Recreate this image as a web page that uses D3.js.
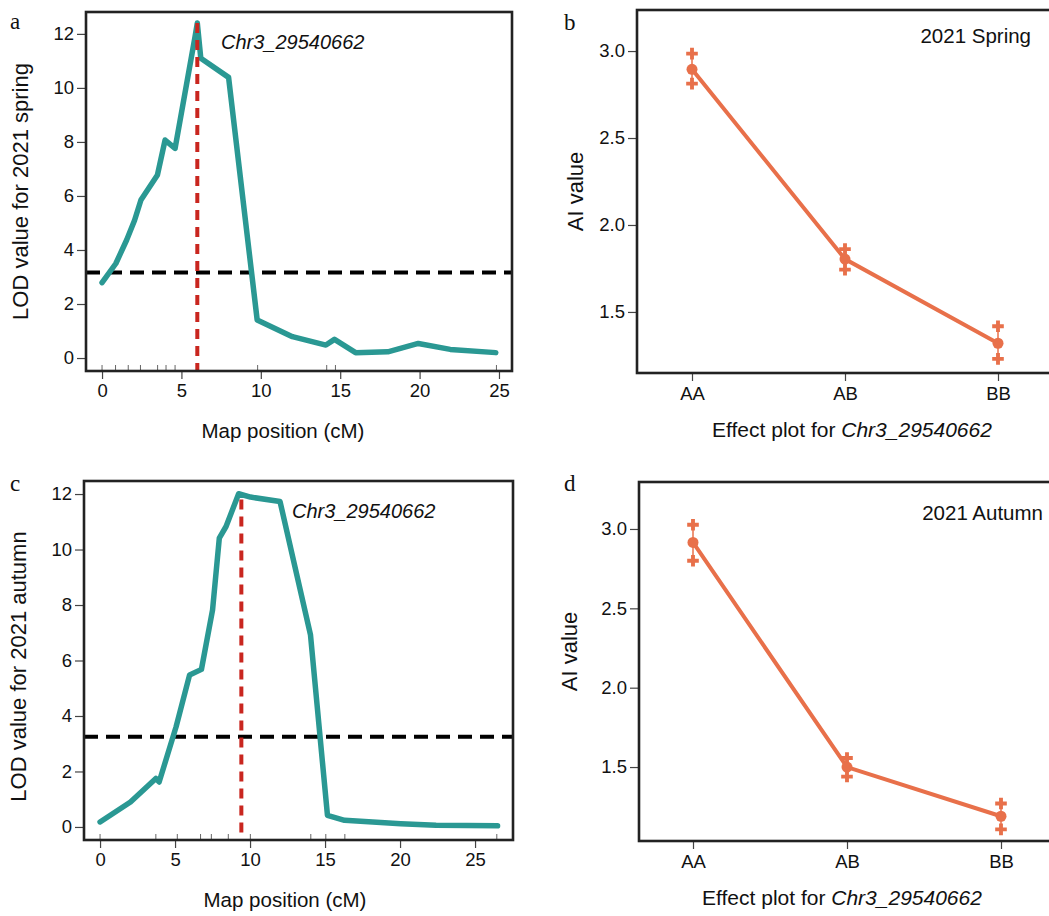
<!DOCTYPE html>
<html>
<head>
<meta charset="utf-8">
<script src="https://cdn.jsdelivr.net/npm/d3@7"></script>
<style>
  body { margin: 0; background: #fff; }
  svg { display: block; }
  text { font-family: "Liberation Sans", Arial, sans-serif; fill: #111; }
</style>
</head>
<body>
<div id="chart"></div>
<script>
// LOD profile, 2021 spring
var springPos = [0, 0.87, 1.55, 2.05, 2.45, 3.49, 3.97, 4.6, 5.86, 6.0, 6.22, 7.97, 9.77, 11.99, 14.1, 14.64, 15.97, 18.0, 19.92, 21.93, 24.8];
var springLod = [2.79, 3.5, 4.37, 5.1, 5.85, 6.78, 8.07, 7.76, 11.9, 12.4, 11.1, 10.39, 1.41, 0.79, 0.48, 0.69, 0.2, 0.23, 0.54, 0.32, 0.2];
var springMarkers = [0, 0.85, 1.65, 2.42, 3.5, 4.03, 4.6, 9.8, 14.15, 14.7, 24.84];
var springThreshold = 3.17;
var springPeak = 6.0;
var springPeakLod = 12.4;

// LOD profile, 2021 autumn
var autumnPos = [0, 2.03, 3.72, 3.94, 5.07, 5.97, 6.76, 7.5, 7.95, 8.4, 9.24, 10.03, 12.0, 14.03, 15.16, 16.3, 20.05, 22.4, 26.5];
var autumnLod = [0.18, 0.9, 1.75, 1.62, 3.61, 5.48, 5.68, 7.82, 10.41, 10.83, 12.01, 11.89, 11.73, 6.92, 0.42, 0.24, 0.12, 0.06, 0.04];
var autumnMarkers = [0, 3.72, 5.15, 6.7, 7.42, 8.55, 10.02, 14.05, 15.05, 16.32, 26.45];
var autumnThreshold = 3.25;
var autumnPeak = 9.42;
var autumnPeakLod = 11.8;

// effect plots
var genotypes = ["AA", "AB", "BB"];
var springMean  = [2.895, 1.804, 1.32];
var springUpper = [2.985, 1.861, 1.418];
var springLower = [2.813, 1.743, 1.23];
var autumnMean  = [2.915, 1.5, 1.19];
var autumnUpper = [3.027, 1.557, 1.27];
var autumnLower = [2.80, 1.44, 1.107];

// ticks
var lodTicks = [0, 2, 4, 6, 8, 10, 12];
var posTicks = [0, 5, 10, 15, 20, 25];
var aiTicks = [1.5, 2.0, 2.5, 3.0];

var markerName = "Chr3_29540662";

var teal = "#2a9893";
var orange = "#e8704a";
var red = "#c9261f";
var frame = "#222";
var sans = '"Liberation Sans", Arial, sans-serif';

var svg = d3.select("#chart").append("svg")
	.attr("width", 1049)
	.attr("height", 916);

svg.append("rect").attr("width", 1049).attr("height", 916).attr("fill", "#fff");

// styles the tick marks and labels of an axis group
function styleAxis(ga) {
	ga.select(".domain").remove();
	ga.selectAll("line").attr("stroke", "#444").attr("stroke-width", 1.2);
	ga.selectAll("text").style("font-size", "18.5px").attr("fill", "#111")
		.style("font-family", sans);
}

// draws the left axis of a panel, returns the group
function panelFrame(p, y, yTicks, fmt) {
	var g = svg.append("g").attr("transform", "translate(" + p.left + "," + p.top + ")");
	var yAxis = d3.axisLeft(y).tickValues(yTicks).tickSize(9).tickPadding(3).tickFormat(fmt);
	styleAxis(g.append("g").call(yAxis));
	return g;
}

function drawFrameRect(g, p) {
	g.append("rect")
		.attr("x", 0).attr("y", 0)
		.attr("width", p.width).attr("height", p.height)
		.attr("fill", "none")
		.attr("stroke", frame)
		.attr("stroke-width", 2.6);
}

function drawLodPanel(p, pos, lod, markers, threshold, peak, peakLod, yTitle, ann) {
	var x = d3.scaleLinear().domain(p.xDomain).range([0, p.width]);
	var y = d3.scaleLinear().domain(p.yDomain).range([p.height, 0]);
	var g = panelFrame(p, y, lodTicks, d3.format("d"));

	// bottom axis
	var xAxis = d3.axisBottom(x).tickValues(posTicks).tickSize(8).tickPadding(5);
	styleAxis(g.append("g").attr("transform", "translate(0," + p.height + ")").call(xAxis));

	// marker rug
	g.selectAll("line.rug")
		.data(markers)
		.enter()
		.append("line")
		.attr("class", "rug")
		.attr("x1", function(d) { return x(d); })
		.attr("x2", function(d) { return x(d); })
		.attr("y1", p.height)
		.attr("y2", p.height - 6)
		.attr("stroke", "#666")
		.attr("stroke-width", 1);

	// threshold
	g.append("line")
		.attr("x1", 0).attr("x2", p.width)
		.attr("y1", y(threshold)).attr("y2", y(threshold))
		.attr("stroke", "#000")
		.attr("stroke-width", 4)
		.attr("stroke-dasharray", "14,8");

	var line = d3.line()
		.x(function(d) { return x(d[0]); })
		.y(function(d) { return y(d[1]); });

	g.append("path")
		.datum(d3.zip(pos, lod))
		.attr("d", line)
		.attr("fill", "none")
		.attr("stroke", teal)
		.attr("stroke-width", 5.5)
		.attr("stroke-linejoin", "round")
		.attr("stroke-linecap", "round");

	// peak marker
	g.append("line")
		.attr("x1", x(peak)).attr("x2", x(peak))
		.attr("y1", y(peakLod)).attr("y2", p.height)
		.attr("stroke", red)
		.attr("stroke-width", 4)
		.attr("stroke-dasharray", "10,7");

	drawFrameRect(g, p);

	g.append("text")
		.attr("x", ann[0]).attr("y", ann[1])
		.style("font-size", "20px")
		.style("font-style", "italic")
		.text(markerName);

	g.append("text")
		.attr("transform", "translate(" + p.yTitleX + "," + (p.height / 2 + p.yTitleDy) + ") rotate(-90)")
		.attr("text-anchor", "middle")
		.attr("dy", "0.35em")
		.style("font-size", "22px")
		.text(yTitle);

	g.append("text")
		.attr("x", p.xTitleX).attr("y", p.height + 67)
		.attr("text-anchor", "middle")
		.style("font-size", "20.5px")
		.text("Map position (cM)");
}

function drawEffectPanel(p, mean, upper, lower, season) {
	var x = d3.scalePoint().domain(genotypes).range([p.pad, p.width - p.pad]);
	var y = d3.scaleLinear().domain(p.yDomain).range([p.height, 0]);
	var g = panelFrame(p, y, aiTicks, d3.format(".1f"));

	var xAxis = d3.axisBottom(x).tickSize(8).tickPadding(6);
	styleAxis(g.append("g").attr("transform", "translate(0," + p.height + ")").call(xAxis));

	var pts = genotypes.map(function(gt, i) {
		return { g: gt, m: mean[i], u: upper[i], l: lower[i] };
	});

	g.append("path")
		.datum(pts)
		.attr("d", d3.line()
			.x(function(d) { return x(d.g); })
			.y(function(d) { return y(d.m); }))
		.attr("fill", "none")
		.attr("stroke", orange)
		.attr("stroke-width", 4);

	// error bars
	g.selectAll("line.err")
		.data(pts)
		.enter()
		.append("line")
		.attr("class", "err")
		.attr("x1", function(d) { return x(d.g); })
		.attr("x2", function(d) { return x(d.g); })
		.attr("y1", function(d) { return y(d.u); })
		.attr("y2", function(d) { return y(d.l); })
		.attr("stroke", orange)
		.attr("stroke-width", 1.5);

	var cross = d3.symbol().type(d3.symbolCross).size(75);
	var ends = [];
	pts.forEach(function(d) { ends.push([d.g, d.u]); ends.push([d.g, d.l]); });
	g.selectAll("path.ci")
		.data(ends)
		.enter()
		.append("path")
		.attr("class", "ci")
		.attr("d", cross)
		.attr("transform", function(d) { return "translate(" + x(d[0]) + "," + y(d[1]) + ")"; })
		.attr("fill", orange);

	g.selectAll("circle.mean")
		.data(pts)
		.enter()
		.append("circle")
		.attr("class", "mean")
		.attr("cx", function(d) { return x(d.g); })
		.attr("cy", function(d) { return y(d.m); })
		.attr("r", 5.5)
		.attr("fill", orange);

	drawFrameRect(g, p);

	g.append("text")
		.attr("x", p.seasonX).attr("y", p.seasonY)
		.attr("text-anchor", "end")
		.style("font-size", "20.5px")
		.text(season);

	g.append("text")
		.attr("transform", "translate(" + p.yTitleX + "," + (p.height / 2 + p.yTitleDy) + ") rotate(-90)")
		.attr("text-anchor", "middle")
		.attr("dy", "0.35em")
		.style("font-size", "22px")
		.text("AI value");

	var t = g.append("text")
		.attr("x", p.xTitleX).attr("y", p.height + 64)
		.attr("text-anchor", "middle")
		.style("font-size", "21px");
	t.append("tspan").text("Effect plot for ");
	t.append("tspan").style("font-style", "italic").text(markerName);
}

// panels
drawLodPanel({ left: 86, top: 12, width: 426, height: 359,
		xDomain: [-1.01, 25.82], yDomain: [-0.48, 12.81],
		yTitleX: -66, yTitleDy: 0, xTitleX: 197 },
	springPos, springLod, springMarkers, springThreshold, springPeak, springPeakLod,
	"LOD value for 2021 spring", [135, 37]);

drawEffectPanel({ left: 637, top: 10, width: 416, height: 363, pad: 55,
		yDomain: [1.149, 3.236], yTitleX: -62, yTitleDy: 0, xTitleX: 215,
		seasonX: 394, seasonY: 33 },
	springMean, springUpper, springLower, "2021 Spring");

drawLodPanel({ left: 84, top: 481, width: 429, height: 359,
		xDomain: [-1.07, 27.53], yDomain: [-0.47, 12.47],
		yTitleX: -66, yTitleDy: 6, xTitleX: 201 },
	autumnPos, autumnLod, autumnMarkers, autumnThreshold, autumnPeak, autumnPeakLod,
	"LOD value for 2021 autumn", [208, 37]);

drawEffectPanel({ left: 639, top: 482, width: 416, height: 359, pad: 54,
		yDomain: [1.034, 3.296], yTitleX: -70, yTitleDy: -10, xTitleX: 203,
		seasonX: 404, seasonY: 38 },
	autumnMean, autumnUpper, autumnLower, "2021 Autumn");

// panel letters
var letters = [["a", 10, 29], ["b", 564, 30], ["c", 10, 491], ["d", 564, 491]];
svg.selectAll("text.letter")
	.data(letters)
	.enter()
	.append("text")
	.attr("class", "letter")
	.attr("x", function(d) { return d[1]; })
	.attr("y", function(d) { return d[2]; })
	.style("font-family", '"Liberation Serif", "Times New Roman", serif')
	.style("font-size", "23px")
	.text(function(d) { return d[0]; });
</script>
</body>
</html>
